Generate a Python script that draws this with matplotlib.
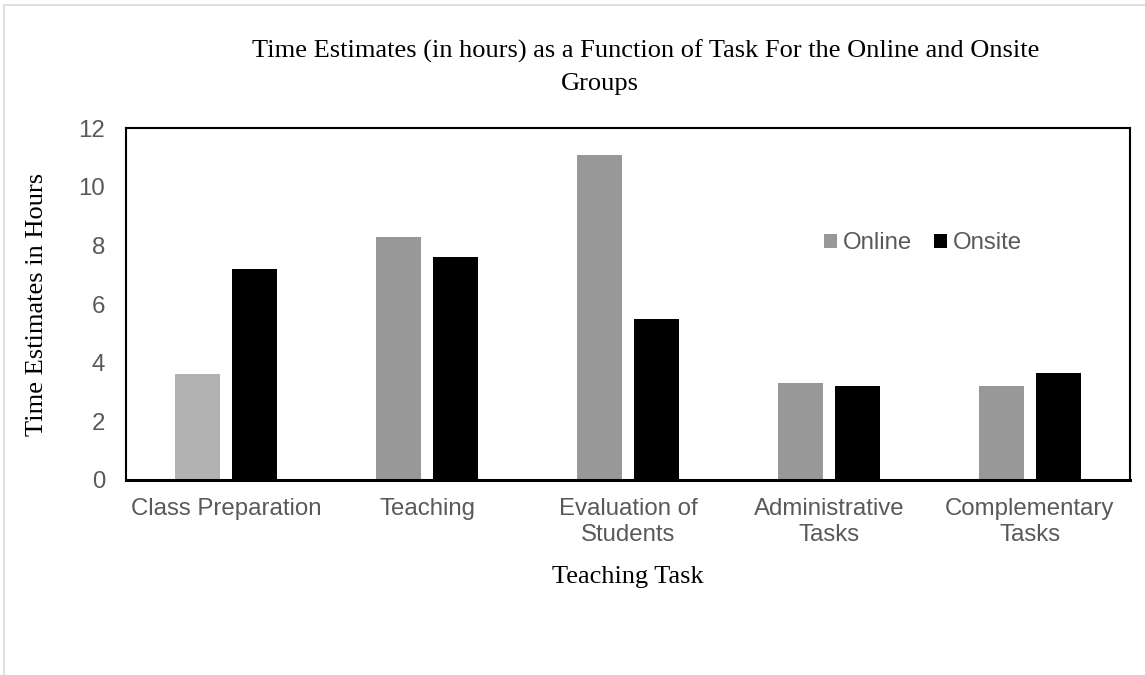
import matplotlib
matplotlib.use("Agg")
import matplotlib.pyplot as plt
import numpy as np
from matplotlib.lines import Line2D

# data
tasks = ["Class Preparation", "Teaching", "Evaluation of\nStudents",
         "Administrative\nTasks", "Complementary\nTasks"]
online = [3.6, 8.3, 11.1, 3.3, 3.2]
onsite = [7.2, 7.6, 5.5, 3.2, 3.65]
online_colors = ["#b2b2b2", "#989898", "#989898", "#989898", "#989898"]

serif = "Liberation Serif"
sans = "Liberation Sans"
text_grey = "#595959"

fig = plt.figure(figsize=(11.45, 6.75), dpi=100)
ax = fig.add_axes([0.110, 0.289, 0.877, 0.521])

x = np.arange(len(tasks))
w = 0.224
off = 0.142
ax.bar(x - off, online, width=w, color=online_colors, linewidth=0, label="Online")
ax.bar(x + off, onsite, width=w, color="black", linewidth=0, label="Onsite")

ax.set_xlim(-0.5, len(tasks) - 0.5)
ax.set_ylim(0, 12)
ax.set_yticks(range(0, 13, 2))
ax.set_xticks(x)
ax.set_xticklabels(tasks, fontfamily=sans, fontsize=17.3, color=text_grey,
                   linespacing=1.25)
for lbl in ax.get_yticklabels():
    lbl.set_fontfamily(sans)
    lbl.set_fontsize(17.3)
    lbl.set_color(text_grey)
ax.tick_params(axis="y", length=0, pad=15)
ax.tick_params(axis="x", length=0, pad=13)

for s in ["top", "left", "right"]:
    ax.spines[s].set_linewidth(1.5)
    ax.spines[s].set_color("black")
ax.spines["bottom"].set_linewidth(2.2)

ax.set_xlabel("Teaching Task", fontfamily=serif, fontsize=19, labelpad=14)
ax.set_ylabel("Time Estimates in Hours", fontfamily=serif, fontsize=19, labelpad=22)

# legend inside the plot, no frame, square handles
leg = ax.legend(loc="center left", bbox_to_anchor=(0.695, 0.673), ncol=2,
                frameon=False, prop={"family": sans, "size": 17.3},
                handlelength=0.55, handleheight=0.55, handletextpad=0.25,
                columnspacing=0.9, borderpad=0, borderaxespad=0)
for t in leg.get_texts():
    t.set_color(text_grey)
leg.legend_handles[0].set_color("#989898")

# two-line title, lines centred separately like the original
fig.text(646 / 1145, 1 - 58 / 675, "Time Estimates (in hours) as a Function of Task For the Online and Onsite",
         ha="center", va="baseline", fontfamily=serif, fontsize=19)
fig.text(600 / 1145, 1 - 90 / 675, "Groups",
         ha="center", va="baseline", fontfamily=serif, fontsize=19)

# faint chart-area border on top and left
fig.add_artist(Line2D([4 / 1145, 4 / 1145], [0, 1 - 5 / 675], transform=fig.transFigure,
                      color="#d9d9d9", linewidth=1.2))
fig.add_artist(Line2D([4 / 1145, 1], [1 - 5 / 675, 1 - 5 / 675], transform=fig.transFigure,
                      color="#d9d9d9", linewidth=1.2))

fig.savefig("out.png", dpi=100, facecolor="white")
